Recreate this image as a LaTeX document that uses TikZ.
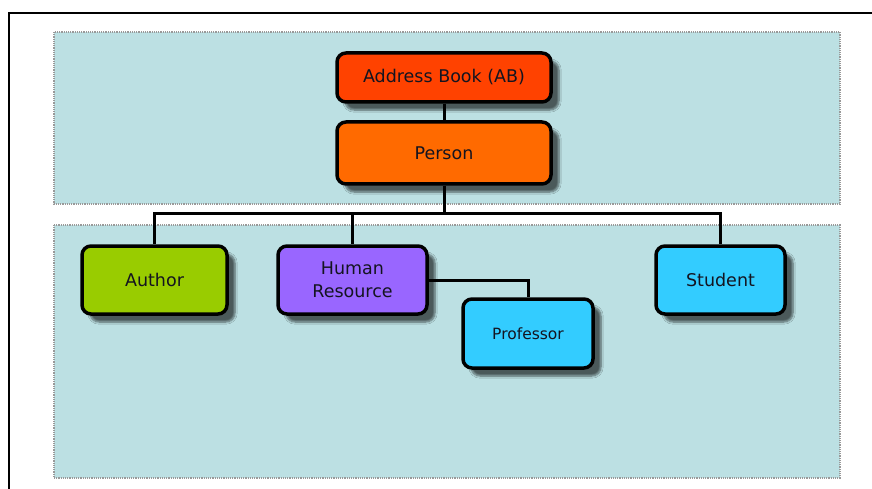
\documentclass[tikz,border=0pt]{standalone}
\usepackage{fontspec}
\setmainfont{DejaVu Sans}
\usetikzlibrary{shadows.blur}
\definecolor{panel}{HTML}{BCE0E3}
\definecolor{abred}{HTML}{FF4200}
\definecolor{persono}{HTML}{FF6A00}
\definecolor{authg}{HTML}{99CC00}
\definecolor{hrv}{HTML}{9966FF}
\definecolor{stub}{HTML}{33CCFF}
\definecolor{txt}{HTML}{141420}
\begin{document}
\begin{tikzpicture}[x=1pt,y=-1pt,
  panelbox/.style={fill=panel,draw=gray!80,densely dotted,line width=1.2pt},
  classbox/.style={draw=black,line width=3.5pt,rounded corners=9pt,text=txt,
    font=\fontsize{17.5}{23}\selectfont,align=center,inner sep=0pt,
    blur shadow={shadow xshift=8pt,shadow yshift=-8pt,shadow opacity=60,shadow blur steps=6}},
  link/.style={draw=black,line width=3pt}]
\useasboundingbox (0,0) rectangle (872,489);
\fill[white] (0,0) rectangle (872,489);
% panels
\draw[panelbox] (54,32) rectangle (840,204);
\draw[panelbox] (54,225) rectangle (840,478);
% frame
\draw[line width=2.8pt] (872,13) -- (9,13) -- (9,489);
% nodes
\node[classbox,fill=abred,minimum width=214pt,minimum height=49pt] (ab) at (444,77.5) {Address Book (AB)};
\node[classbox,fill=persono,minimum width=214pt,minimum height=62pt] (person) at (444,153) {Person};
\node[classbox,fill=authg,minimum width=145pt,minimum height=68pt] (author) at (154.5,280) {Author};
\node[classbox,fill=hrv,minimum width=149pt,minimum height=68pt] (hr) at (352.5,280) {Human\\Resource};
\node[classbox,fill=stub,minimum width=130pt,minimum height=69pt,font=\fontsize{15.5}{20}\selectfont] (prof) at (528,333.5) {Professor};
\node[classbox,fill=stub,minimum width=129pt,minimum height=68pt] (student) at (720.5,280) {Student};
% connectors
\coordinate (bus) at (444,213);
\draw[link] (ab.south) -- (person.north);
\draw[link] (person.south) -- (bus);
\draw[link] (bus) -| (author.north);
\draw[link] (bus) -| (hr.north);
\draw[link] (bus) -| (student.north);
\draw[link] (hr.east) -| (prof.north);
\end{tikzpicture}
\end{document}
